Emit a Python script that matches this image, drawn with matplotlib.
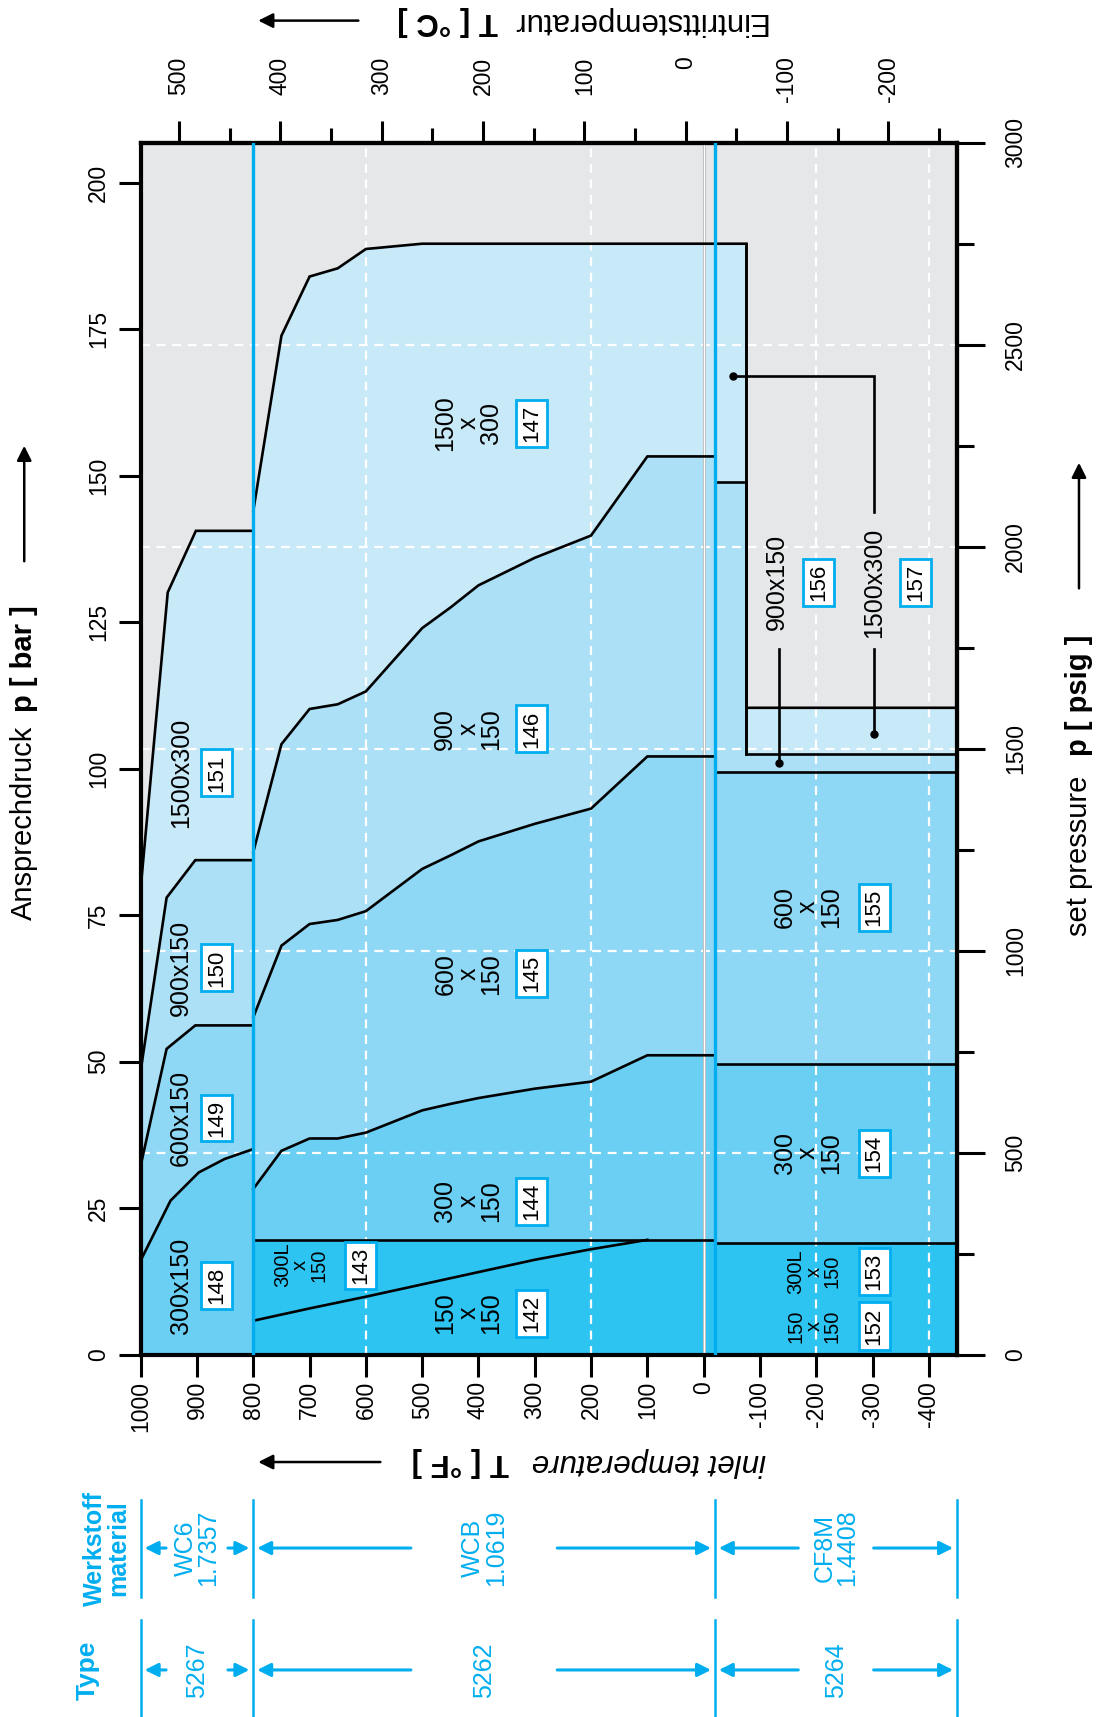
import matplotlib
matplotlib.use('Agg')
import matplotlib.pyplot as plt
import matplotlib.transforms as mtrans

plt.rcParams['font.family'] = ['Liberation Sans', 'DejaVu Sans']
plt.rcParams['axes.unicode_minus'] = False

CYAN = '#00AEEF'
BG = '#E6E7E8'
C1500, C900, C600, C300, C150 = '#C8E9F8', '#ABE0F7', '#8ED8F5', '#6BCEF3', '#2DC4F2'

# ---- data: pressure limits [bar] over inlet temperature [F] ----
# WC6 (1000 .. 800 F)
wc6_300_t = [1000, 947, 897, 851, 800]
wc6_300_p = [16.1, 26.3, 31.1, 33.4, 35.1]
wc6_600_t = [1000, 954, 903, 800]
wc6_600_p = [32.3, 52.2, 56.2, 56.2]
wc6_900_t = [1000, 954, 903, 800]
wc6_900_p = [48.5, 78.0, 84.4, 84.4]
wc6_1500_t = [1000, 952, 902, 800]
wc6_1500_p = [79.7, 130.1, 140.6, 140.6]

# WCB (800 .. -20 F)
wcb_t = [800, 750, 700, 650, 600, 500, 450, 400, 300, 200, 100, -20]
wcb_300_p = [28.3, 34.8, 36.9, 36.9, 37.9, 41.7, 42.8, 43.8, 45.4, 46.6, 51.1, 51.1]
wcb_600_p = [57.6, 69.8, 73.5, 74.2, 75.7, 82.9, 85.2, 87.6, 90.6, 93.2, 102.1, 102.1]
wcb_900_p = [85.8, 104.2, 110.2, 111.0, 113.2, 124.0, 127.5, 131.3, 136.0, 139.8, 153.3, 153.3]
wcb_1500_t = [800, 750, 700, 650, 600, 500, -20]
wcb_1500_p = [144.0, 173.9, 184.0, 185.4, 188.7, 189.6, 189.6]
wcb_150_t = [800, 700, 600, 500, 400, 300, 200, 100]
wcb_150_p = [5.8, 7.9, 9.9, 12.0, 14.1, 16.2, 18.0, 19.6]
wcb_300l_t = [800, -20]
wcb_300l_p = [19.6, 19.6]

# CF8M (-20 .. -450 F)
cf8m_150_t = [-20, -450]
cf8m_150_p = [19.0, 19.0]
cf8m_300_t = [-20, -450]
cf8m_300_p = [49.6, 49.6]
cf8m_600_t = [-20, -450]
cf8m_600_p = [99.4, 99.4]
cf8m_900_t = [-20, -76, -76, -450]
cf8m_900_p = [149.0, 149.0, 102.6, 102.6]
cf8m_1500_t = [-20, -76, -76, -450]
cf8m_1500_p = [189.6, 189.6, 110.4, 110.4]

f_ticks = list(range(1000, -401, -100))
bar_ticks = [0, 25, 50, 75, 100, 125, 150, 175, 200]
psig_ticks = [0, 500, 1000, 1500, 2000, 2500, 3000]
c_ticks = [500, 400, 300, 200, 100, 0, -100, -200]
grid_f = [600, 200, -200, -400]
grid_psig = [500, 1000, 1500, 2000, 2500]

# in-plot labels: (text, T, p, box number, T of box, small font)
region_labels = [
    ('300x150', 929, 11.8, '148', 865, False),
    ('600x150', 929, 40.4, '149', 865, False),
    ('900x150', 929, 66.0, '150', 865, False),
    ('1500x300', 929, 99.3, '151', 865, False),
    ('150\nx\n150', 418, 7.1, '142', 306, False),
    ('300L\nx\n150', 716, 15.3, '143', 610, True),
    ('300\nx\n150', 418, 26.2, '144', 306, False),
    ('600\nx\n150', 418, 65.0, '145', 306, False),
    ('900\nx\n150', 418, 106.8, '146', 306, False),
    ('1500\nx\n300', 418, 159.0, '147', 306, False),
    ('150\nx\n150', -196, 4.9, '152', -303, True),
    ('300L\nx\n150', -196, 14.2, '153', -303, True),
    ('300\nx\n150', -185, 34.4, '154', -303, False),
    ('600\nx\n150', -185, 76.4, '155', -303, False),
    ('900x150', -130, 131.8, '156', -204, False),
    ('1500x300', -302, 131.8, '157', -376, False),
]

materials = ['WC6\n1.7357', 'WCB\n1.0619', 'CF8M\n1.4408']
types = ['5267', '5262', '5264']
mat_bounds = [1000, 800, -20, -450]


def f2c(f):
    return (f - 32) / 1.8


def c2f(c):
    return c * 1.8 + 32


def bar2psig(b):
    return b * 14.5038


def psig2bar(p):
    return p / 14.5038


fig = plt.figure(figsize=(11.01, 17.17), dpi=100)
ax = fig.add_axes([0.1278, 0.2110, 0.7414, 0.7059])
ax.set_facecolor(BG)

# filled pressure regions, largest first
prof_1500 = (wc6_1500_t + wcb_1500_t + cf8m_1500_t, wc6_1500_p + wcb_1500_p + cf8m_1500_p)
prof_900 = (wc6_900_t + wcb_t + cf8m_900_t, wc6_900_p + wcb_900_p + cf8m_900_p)
prof_600 = (wc6_600_t + wcb_t + cf8m_600_t, wc6_600_p + wcb_600_p + cf8m_600_p)
prof_300 = (wc6_300_t + wcb_t + cf8m_300_t, wc6_300_p + wcb_300_p + cf8m_300_p)
prof_150 = (wcb_300l_t + cf8m_150_t, wcb_300l_p + cf8m_150_p)
for (t, p), col in [(prof_1500, C1500), (prof_900, C900), (prof_600, C600),
                    (prof_300, C300), (prof_150, C150)]:
    ax.fill_between(t, 0, p, color=col, lw=0, zorder=1)

# dashed white grid
for g in grid_f:
    ax.axvline(g, color='white', lw=1.6, ls=(0, (4, 3)), zorder=2)
for g in grid_psig:
    ax.axhline(psig2bar(g), color='white', lw=1.6, ls=(0, (4, 3)), zorder=2)
ax.axvline(0, color='#B5B5B5', lw=2.2, zorder=2)
ax.axvline(0, color='white', lw=1.0, zorder=2)

# boundary lines
kw = dict(color='black', lw=1.9, zorder=3, solid_joinstyle='miter')
for t, p in [(wc6_300_t, wc6_300_p), (wc6_600_t, wc6_600_p), (wc6_900_t, wc6_900_p),
             (wc6_1500_t, wc6_1500_p), (wcb_t, wcb_300_p), (wcb_t, wcb_600_p),
             (wcb_t, wcb_900_p), (wcb_150_t, wcb_150_p), (wcb_300l_t, wcb_300l_p),
             (cf8m_150_t, cf8m_150_p), (cf8m_300_t, cf8m_300_p), (cf8m_600_t, cf8m_600_p),
             (cf8m_900_t, cf8m_900_p)]:
    ax.plot(t, p, **kw)
ax.plot(wcb_1500_t + cf8m_1500_t, wcb_1500_p + cf8m_1500_p, **kw)
ax.plot([-76, -76], [102.6, 189.6], **kw)

# material boundaries
ax.axvline(800, color=CYAN, lw=2.4, zorder=4)
ax.axvline(-20, color=CYAN, lw=2.4, zorder=4)

# leader lines for 156 / 157
ax.plot([-134, -134], [100.9, 120.5], **kw)
ax.plot([-134], [100.9], 'o', color='black', ms=5, zorder=4)
ax.plot([-303, -303], [106.0, 120.5], **kw)
ax.plot([-303], [106.0], 'o', color='black', ms=5, zorder=4)
ax.plot([-303, -303, -53], [143.8, 167.1, 167.1], **kw)
ax.plot([-53], [167.1], 'o', color='black', ms=5, zorder=4)

box = dict(boxstyle='square,pad=0.22', fc='white', ec=CYAN, lw=2)
for txt, t, p, num, tb, small in region_labels:
    fs = 14.5 if small else 18
    ax.text(t, p, txt, rotation=90, ha='center', va='center', fontsize=fs,
            linespacing=0.95, zorder=5)
    ax.text(tb, p, num, rotation=90, ha='center', va='center', fontsize=16,
            bbox=box, zorder=5)

ax.set_xlim(1000, -450)
ax.set_ylim(0, psig2bar(3000))
ax.set_xticks(f_ticks)
ax.set_yticks(bar_ticks)
for s in ax.spines.values():
    s.set_linewidth(3)
ax.tick_params(axis='both', length=16, width=2.2, labelsize=16.5, direction='out')
ax.tick_params(axis='x', labelrotation=90, pad=3)
ax.tick_params(axis='y', labelrotation=90, pad=6)
for lab in ax.get_yticklabels():
    lab.set_va('center')

top = ax.secondary_xaxis('top', functions=(f2c, c2f))
top.set_xticks(c_ticks)
top.set_xticks(list(range(-250, 551, 50)), minor=True)
top.tick_params(which='major', length=16, width=2.2, labelsize=16.5, labelrotation=90, pad=46)
top.tick_params(which='minor', length=11, width=2.2)
top.spines['top'].set_linewidth(3)
for lab in top.get_xticklabels():
    lab.set_va('top')

right = ax.secondary_yaxis('right', functions=(bar2psig, psig2bar))
right.set_yticks(psig_ticks)
right.set_yticks(list(range(250, 3000, 500)), minor=True)
right.tick_params(which='major', length=20, width=2.2, labelsize=16.5, labelrotation=90, pad=14)
right.tick_params(which='minor', length=12, width=2.2)
right.spines['right'].set_linewidth(3)
for lab in right.get_yticklabels():
    lab.set_va('center')

# axis titles
arrow = dict(arrowstyle='-|>', color='black', lw=1.8, mutation_scale=22)
fig.text(0.022, 0.4642, 'Ansprechdruck', rotation=90, rotation_mode='anchor',
         ha='left', va='center', fontsize=21)
fig.text(0.022, 0.5853, 'p [ bar ]', rotation=90, rotation_mode='anchor',
         ha='left', va='center', fontsize=21, weight='bold')
fig.add_artist(matplotlib.patches.FancyArrowPatch((0.022, 0.6715), (0.022, 0.742),
               transform=fig.transFigure, **arrow))

fig.text(0.980, 0.4549, 'set pressure', rotation=90, rotation_mode='anchor',
         ha='left', va='center', fontsize=21)
fig.text(0.980, 0.5599, 'p [ psig ]', rotation=90, rotation_mode='anchor',
         ha='left', va='center', fontsize=21, weight='bold')
fig.add_artist(matplotlib.patches.FancyArrowPatch((0.980, 0.6557), (0.980, 0.7321),
               transform=fig.transFigure, **arrow))

fig.text(0.696, 0.988, 'Eintrittstemperatur', rotation=180, rotation_mode='anchor',
         ha='left', va='center', fontsize=22.5)
fig.text(0.4525, 0.988, 'T [ \u00b0C ]', rotation=180, rotation_mode='anchor',
         ha='left', va='center', fontsize=22.5, weight='bold')
fig.add_artist(matplotlib.patches.FancyArrowPatch((0.328, 0.988), (0.232, 0.988),
               transform=fig.transFigure, **arrow))

fig.text(0.696, 0.1485, 'inlet temperature', rotation=180, rotation_mode='anchor',
         ha='left', va='center', fontsize=22.5, style='italic')
fig.text(0.4625, 0.1485, 'T [ \u00b0F ]', rotation=180, rotation_mode='anchor',
         ha='left', va='center', fontsize=22.5, weight='bold')
fig.add_artist(matplotlib.patches.FancyArrowPatch((0.348, 0.1485), (0.232, 0.1485),
               transform=fig.transFigure, **arrow))

# material / type table below the chart
tr = mtrans.blended_transform_factory(ax.transData, fig.transFigure)
rows = [(materials, 0.1264, 0.0700, 0.0984), (types, 0.0565, 0.0, 0.0274)]
carrow = dict(arrowstyle='-|>', color=CYAN, lw=2.2, mutation_scale=20)
for labels, y0, y1, ya in rows:
    for b in mat_bounds:
        ax.plot([b, b], [y0, y1], color=CYAN, lw=1.8, transform=tr, clip_on=False)
    for i, lab in enumerate(labels):
        a, b = mat_bounds[i], mat_bounds[i + 1]
        mid = (a + b) / 2
        half = 50 if i == 0 else (125 if i == 1 else 62)
        ax.text(mid, ya, lab, rotation=90, ha='center', va='center', fontsize=18,
                color=CYAN, transform=tr, linespacing=0.95)
        ax.annotate('', xy=(a - 2, ya), xytext=(mid + half, ya), xycoords=tr,
                    textcoords=tr, arrowprops=carrow, annotation_clip=False)
        ax.annotate('', xy=(b + 2, ya), xytext=(mid - half, ya), xycoords=tr,
                    textcoords=tr, arrowprops=carrow, annotation_clip=False)
fig.text(0.097, 0.0984, 'Werkstoff\nmaterial', rotation=90, ha='center', va='center',
         fontsize=18, color=CYAN, weight='bold', linespacing=0.95)
fig.text(0.080, 0.0274, 'Type', rotation=90, ha='center', va='center',
         fontsize=19, color=CYAN, weight='bold')

fig.savefig('out.png', dpi=100)
